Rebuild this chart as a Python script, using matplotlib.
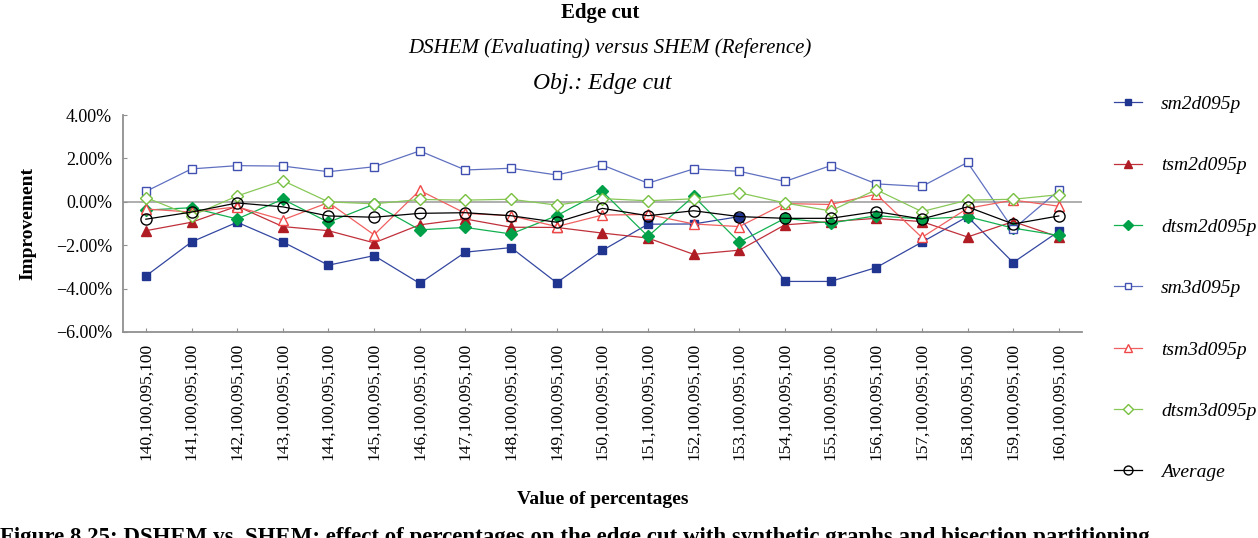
import matplotlib.pyplot as plt
import numpy as np

plt.rcParams['font.family'] = ['Liberation Serif', 'DejaVu Serif']

# category labels along x
labels = ["%d,100,095,100" % n for n in range(140, 161)]

# improvement values (%)
sm2d095p = [-3.42, -1.85, -0.94, -1.85, -2.92, -2.48, -3.76, -2.32, -2.11, -3.73, -2.24,
            -1.03, -1.02, -0.68, -3.67, -3.67, -3.03, -1.86, -0.68, -2.80, -1.36]
tsm2d095p = [-1.33, -0.94, -0.20, -1.14, -1.33, -1.89, -1.06, -0.79, -1.17, -1.18, -1.44,
             -1.67, -2.42, -2.23, -1.06, -0.91, -0.76, -0.91, -1.62, -0.91, -1.62]
dtsm2d095p = [-0.38, -0.27, -0.79, 0.12, -0.94, -0.11, -1.29, -1.18, -1.48, -0.64, 0.48,
              -1.59, 0.26, -1.86, -0.76, -0.98, -0.64, -0.79, -0.68, -1.21, -1.55]
sm3d095p = [0.48, 1.52, 1.67, 1.65, 1.39, 1.62, 2.35, 1.47, 1.55, 1.24, 1.70,
            0.86, 1.52, 1.41, 0.94, 1.67, 0.83, 0.71, 1.82, -1.26, 0.53]
tsm3d095p = [-0.33, -0.47, -0.23, -0.83, -0.03, -1.52, 0.53, -0.53, -0.64, -1.14, -0.61,
             -0.58, -1.02, -1.14, -0.08, -0.12, 0.35, -1.64, -0.30, 0.08, -0.20]
dtsm3d095p = [0.20, -0.64, 0.27, 0.98, 0.00, -0.09, 0.11, 0.08, 0.12, -0.15, 0.15,
              0.05, 0.14, 0.42, -0.05, -0.42, 0.56, -0.45, 0.08, 0.12, 0.33]
average = [-0.80, -0.47, -0.05, -0.23, -0.65, -0.71, -0.53, -0.50, -0.64, -0.94, -0.30,
           -0.64, -0.41, -0.68, -0.76, -0.76, -0.45, -0.79, -0.23, -1.02, -0.65]

x = np.arange(len(labels))

fig = plt.figure(figsize=(12.58, 5.38), dpi=100)
ax = fig.add_axes([0.0978, 0.383, 0.762, 0.403])

ax.axhline(0, color="#a8a8a8", linewidth=1.3, zorder=1)

ax.plot(x, sm2d095p, color="#3447a0", linewidth=0.9, marker="s", markersize=5.5,
        markerfacecolor="#1f3590", markeredgecolor="#1f3590", label="sm2d095p")
ax.plot(x, tsm2d095p, color="#c0303a", linewidth=0.9, marker="^", markersize=7,
        markerfacecolor="#b01c24", markeredgecolor="#b01c24", label="tsm2d095p")
ax.plot(x, dtsm2d095p, color="#13b050", linewidth=0.9, marker="D", markersize=6,
        markerfacecolor="#00a048", markeredgecolor="#00a048", label="dtsm2d095p")
ax.plot(x, sm3d095p, color="#6070c0", linewidth=0.9, marker="s", markersize=6,
        markerfacecolor="white", markeredgecolor="#4050b0", label="sm3d095p")
ax.plot(x, tsm3d095p, color="#f06060", linewidth=0.9, marker="^", markersize=7,
        markerfacecolor="white", markeredgecolor="#f04848", label="tsm3d095p")
ax.plot(x, dtsm3d095p, color="#88c858", linewidth=0.9, marker="D", markersize=6,
        markerfacecolor="white", markeredgecolor="#78c040", label="dtsm3d095p")
ax.plot(x, average, color="black", linewidth=0.9, marker="o", markersize=8,
        markerfacecolor="none", markeredgecolor="black", label="Average")

ax.set_xlim(-0.5, len(labels) - 0.5)
ax.set_ylim(-6, 4)
yt = [4, 2, 0, -2, -4, -6]
ax.set_yticks(yt)
ax.set_yticklabels([("%.2f%%" % v).replace("-", "\u2212") for v in yt], fontsize=13)
ax.set_xticks(x)
ax.set_xticklabels(labels, rotation=90, fontsize=12.5)
ax.tick_params(axis="both", direction="in", length=3, color="#909090", pad=8)

for s in ["top", "right"]:
    ax.spines[s].set_visible(False)
for s in ["left", "bottom"]:
    ax.spines[s].set_color("#909090")
    ax.spines[s].set_linewidth(1.3)

ax.set_ylabel("Improvement", fontsize=14, fontweight="bold", labelpad=14)
ax.set_xlabel("Value of percentages", fontsize=14, fontweight="bold", labelpad=22)

fig.text(0.477, 0.976, "Edge cut", ha="center", va="center", fontsize=15, fontweight="bold")
fig.text(0.485, 0.91, "DSHEM (Evaluating) versus SHEM (Reference)", ha="center", va="center",
         fontsize=15, style="italic")
fig.text(0.479, 0.845, "Obj.: Edge cut", ha="center", va="center", fontsize=17, style="italic")

fig.text(0.0, 0.0, "Figure 8.25: DSHEM vs. SHEM: effect of percentages on the edge cut with synthetic graphs and bisection partitioning",
         ha="left", va="center", fontsize=16.5, fontweight="bold")

ax.legend(loc="upper left", bbox_to_anchor=(0.872, 0.855), bbox_transform=fig.transFigure,
          frameon=False, prop={"style": "italic", "size": 14}, labelspacing=2.25,
          handlelength=1.4, handletextpad=1.0, markerscale=0.8)

fig.savefig("out.png", dpi=100)
